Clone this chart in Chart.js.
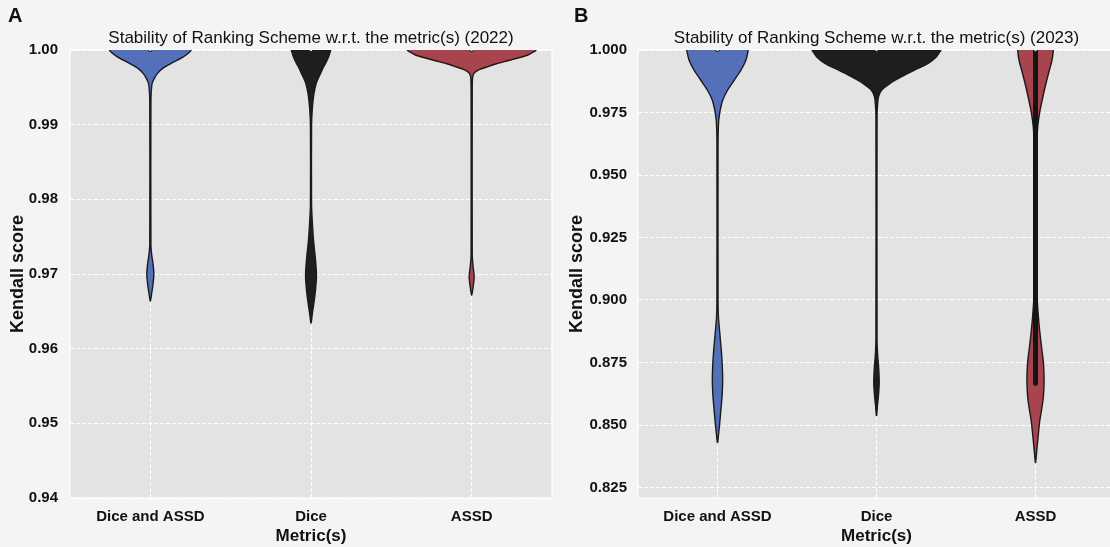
<!DOCTYPE html>
<html>
<head>
<meta charset="utf-8">
<script src="https://cdn.jsdelivr.net/npm/chart.js@4.4.1/dist/chart.umd.min.js"></script>
<style>
  html, body { margin: 0; padding: 0; }
  body { width: 1110px; height: 547px; overflow: hidden; position: relative; background: #f4f4f4;
         font-family: "Liberation Sans", Arial, sans-serif; }
  .panel { position: absolute; top: 0; height: 547px; }
  .tag { position: absolute; top: 4px; font-weight: bold; font-size: 20px; color: #111; }
</style>
</head>
<body>
<div class="panel" style="left:0;width:560px;"><canvas id="c1" width="560" height="547"></canvas></div>
<div class="panel" style="left:560px;width:560px;"><canvas id="c2" width="560" height="547"></canvas></div>
<div class="tag" style="left:8px;">A</div>
<div class="tag" style="left:574px;">B</div>
<script>
// ---------- data ----------
const categories = ['Dice and ASSD', 'Dice', 'ASSD'];
const violinColors = ['#5470b8', '#1e1e1e', '#a8444e'];

const yTicks2022 = [0.94, 0.95, 0.96, 0.97, 0.98, 0.99, 1.00];
const yTicks2023 = [0.825, 0.85, 0.875, 0.9, 0.925, 0.95, 0.975, 1.0];

// 2022 violins: Kendall score levels and half-widths (category units)
const score2022DiceAssd = [1.0, 0.9996, 0.9990, 0.9983, 0.9976, 0.9969, 0.9962, 0.9955, 0.9945, 0.9930, 0.9740, 0.9725, 0.9715, 0.9700, 0.9685, 0.9675, 0.9664];
const width2022DiceAssd = [0.256, 0.238, 0.200, 0.1375, 0.081, 0.046, 0.025, 0.011, 0.006, 0.0035, 0.0035, 0.009, 0.016, 0.022, 0.016, 0.009, 0.001];

const score2022Dice = [1.0, 0.99906, 0.99826, 0.99759, 0.99692, 0.99625, 0.99558, 0.99424, 0.99237, 0.98996, 0.97924, 0.97723, 0.97455, 0.97214, 0.96987, 0.96786, 0.96625, 0.96478, 0.96344];
const width2022Dice = [0.123, 0.109, 0.092, 0.075, 0.061, 0.046, 0.033, 0.019, 0.009, 0.0035, 0.0035, 0.0075, 0.0156, 0.027, 0.034, 0.028, 0.019, 0.009, 0.001];

const score2022Assd = [1.0, 0.99973, 0.99933, 0.99893, 0.99853, 0.99813, 0.99772, 0.99732, 0.99692, 0.99652, 0.99598, 0.99464, 0.97255, 0.97121, 0.96960, 0.96826, 0.96719];
const width2022Assd = [0.403, 0.384, 0.350, 0.2875, 0.219, 0.150, 0.094, 0.041, 0.016, 0.0075, 0.0045, 0.0035, 0.0035, 0.008, 0.0156, 0.009, 0.001];

// 2023 violins
const score2023DiceAssd = [1.0, 0.9960, 0.9920, 0.9880, 0.9840, 0.9800, 0.9760, 0.9720, 0.9680, 0.9640, 0.8999, 0.8931, 0.8859, 0.8799, 0.8738, 0.8678, 0.8618, 0.8558, 0.8498, 0.8458, 0.8430];
const width2023DiceAssd = [0.194, 0.179, 0.148, 0.106, 0.064, 0.033, 0.017, 0.008, 0.005, 0.0035, 0.0035, 0.006, 0.0156, 0.024, 0.030, 0.0325, 0.029, 0.021, 0.0125, 0.006, 0.001];

const score2023Dice = [1.0, 0.99732, 0.99467, 0.9920, 0.98931, 0.98667, 0.9840, 0.9813, 0.9773, 0.9740, 0.8839, 0.8779, 0.8726, 0.8670, 0.8618, 0.8578, 0.8538];
const width2023Dice = [0.406, 0.377, 0.325, 0.242, 0.158, 0.086, 0.033, 0.0125, 0.006, 0.0035, 0.0035, 0.0075, 0.014, 0.017, 0.0125, 0.006, 0.001];

const score2023Assd = [1.0, 0.9960, 0.9920, 0.9880, 0.9840, 0.9800, 0.9760, 0.9720, 0.9680, 0.9600, 0.9400, 0.9079, 0.8999, 0.8939, 0.8879, 0.8807, 0.8747, 0.8678, 0.8610, 0.8558, 0.8518, 0.8470, 0.8418, 0.8350];
const width2023Assd = [0.1125, 0.104, 0.0875, 0.071, 0.056, 0.042, 0.029, 0.019, 0.0125, 0.008, 0.006, 0.006, 0.011, 0.0175, 0.026, 0.039, 0.050, 0.054, 0.049, 0.0375, 0.027, 0.019, 0.011, 0.001];

// inner box of the 2023 ASSD violin (q3 -> q1)
const box2023Assd = [1.0, 0.8667];

// ---------- helpers ----------
function violinPoints(center, scores, widths) {
  const left = scores.map((s, i) => ({ x: center - widths[i], y: s }));
  const right = scores.map((s, i) => ({ x: center + widths[i], y: s })).reverse();
  return left.concat(right);
}
function violinDataset(center, scores, widths) {
  return {
    data: violinPoints(center, scores, widths),
    showLine: true, fill: 'shape', order: 2,
    backgroundColor: violinColors[center],
    borderColor: '#1a1a1a', borderWidth: 1.4,
    pointRadius: 0, tension: 0.25, clip: 0
  };
}
const bgPlugin = {
  id: 'plotbg',
  beforeDraw(chart) {
    const a = chart.chartArea, ctx = chart.ctx;
    ctx.save();
    ctx.fillStyle = '#e3e3e3';
    ctx.fillRect(a.left, a.top, a.right - a.left, a.bottom - a.top);
    ctx.strokeStyle = '#ffffff';
    ctx.lineWidth = 1.2;
    ctx.strokeRect(a.left, a.top, a.right - a.left, a.bottom - a.top);
    ctx.restore();
  }
};

function makeChart(id, opts) {
  const font = '"Liberation Sans", Arial, sans-serif';
  return new Chart(document.getElementById(id), {
    type: 'scatter',
    data: { datasets: opts.datasets },
    plugins: [bgPlugin],
    options: {
      responsive: false, animation: false, devicePixelRatio: 1,
      layout: { padding: { left: 0, right: opts.padRight, top: 0, bottom: 0 } },
      plugins: {
        legend: { display: false }, tooltip: { enabled: false },
        title: { display: true, text: opts.title, fullSize: false, color: '#111',
                 font: { family: font, size: 17, weight: 'normal' }, padding: { top: 28, bottom: 1.6 } }
      },
      scales: {
        x: {
          type: 'linear', min: -0.5, max: 2.5,
          afterBuildTicks: s => { s.ticks = [0, 1, 2].map(v => ({ value: v })); },
          afterFit: s => { s.height = 49; },
          ticks: { callback: v => categories[v], color: '#111', padding: 10, maxRotation: 0, autoSkip: false,
                   font: { family: font, size: 15, weight: 'bold' } },
          grid: { color: 'rgba(255,255,255,0.95)', lineWidth: 1, drawTicks: false },
          border: { display: false, dash: [4, 2] },
          title: { display: true, text: 'Metric(s)', color: '#111', padding: { top: 0, bottom: 0 },
                   font: { family: font, size: 17, weight: 'bold' } }
        },
        y: {
          type: 'linear', min: opts.ymin, max: opts.ymax,
          afterBuildTicks: s => { s.ticks = opts.yTicks.map(v => ({ value: v })); },
          afterFit: s => { s.width = opts.yWidth; },
          ticks: { callback: v => v.toFixed(opts.dec), color: '#111', padding: opts.tickPad,
                   font: { family: font, size: 15, weight: 'bold' } },
          grid: { color: 'rgba(255,255,255,0.95)', lineWidth: 1, drawTicks: false },
          border: { display: false, dash: [4, 2] },
          title: { display: true, text: 'Kendall score', color: '#111', padding: { top: opts.titlePad, bottom: 0 },
                   font: { family: font, size: 18, weight: 'bold' } }
        }
      }
    }
  });
}

const medianMarks = {
  data: [0, 1, 2].map(c => ({ x: c, y: 1.0 })),
  showLine: false, pointRadius: 2, pointStyle: 'rect', order: 0,
  pointBackgroundColor: '#ffffff', pointBorderColor: '#222', pointBorderWidth: 1, clip: 0
};

makeChart('c1', {
  title: 'Stability of Ranking Scheme w.r.t. the metric(s) (2022)',
  padRight: 8, yWidth: 70, tickPad: 12, titlePad: 7, dec: 2,
  ymin: 0.94, ymax: 1.0, yTicks: yTicks2022,
  datasets: [
    violinDataset(0, score2022DiceAssd, width2022DiceAssd),
    violinDataset(1, score2022Dice, width2022Dice),
    violinDataset(2, score2022Assd, width2022Assd),
    medianMarks
  ]
});

makeChart('c2', {
  title: 'Stability of Ranking Scheme w.r.t. the metric(s) (2023)',
  padRight: 2, yWidth: 78, tickPad: 11, titlePad: 6, dec: 3,
  ymin: 0.8208, ymax: 1.0, yTicks: yTicks2023,
  datasets: [
    violinDataset(0, score2023DiceAssd, width2023DiceAssd),
    violinDataset(1, score2023Dice, width2023Dice),
    violinDataset(2, score2023Assd, width2023Assd),
    { data: box2023Assd.map(v => ({ x: 2, y: v })), showLine: true, borderColor: '#141414', order: 1,
      borderWidth: 5, borderCapStyle: 'round', pointRadius: 0, clip: 0 },
    medianMarks
  ]
});
</script>
</body>
</html>
